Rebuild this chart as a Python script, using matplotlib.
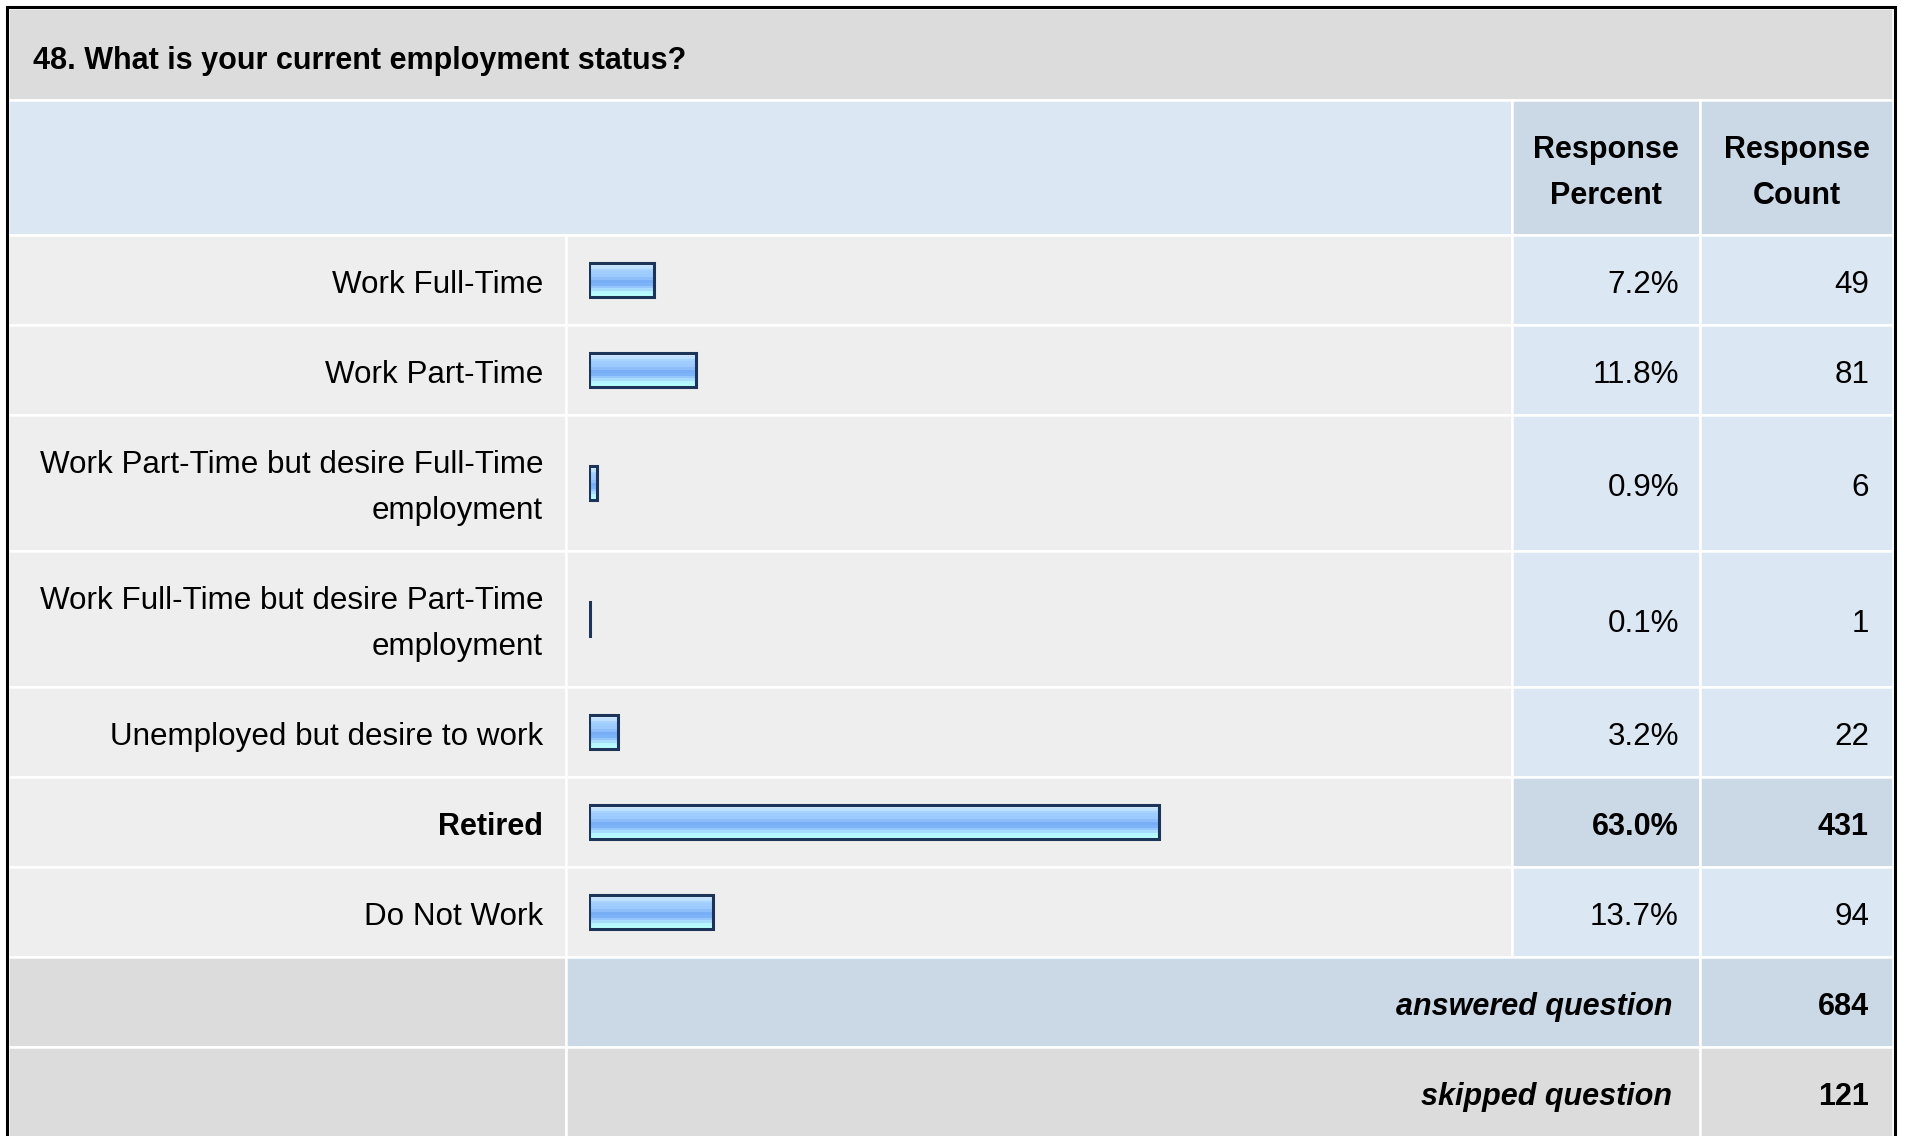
import numpy as np
import matplotlib.pyplot as plt
from matplotlib.patches import Rectangle
from matplotlib.colors import to_rgb

plt.rcParams['font.family'] = ['Liberation Sans', 'DejaVu Sans']

# ---- data ----
question = "48. What is your current employment status?"
answers = ["Work Full-Time", "Work Part-Time",
           "Work Part-Time but desire Full-Time\nemployment",
           "Work Full-Time but desire Part-Time\nemployment",
           "Unemployed but desire to work", "Retired", "Do Not Work"]
percents = [7.2, 11.8, 0.9, 0.1, 3.2, 63.0, 13.7]
counts = [49, 81, 6, 1, 22, 431, 94]
answered = 684
skipped = 121
highlight = "Retired"

# ---- layout (pixels) ----
W, H = 1907, 1136
X0, XLAB, XBAR, XPCT, XEND = 8, 566, 1512, 1700, 1893
FS = 22
FS_LAB = 22.6
DY = 5  # nudge text down to sit like the html render
GRAY = "#dcdcdc"
LIGHT = "#eeeeee"
BLUE = "#dce7f4"
BLUE_DK = "#cbd8e6"
NAVY = "#1b3458"
stripes = ["#d4eaff", "#bfe0ff", "#a8d3ff", "#9fcdff", "#9ccaff", "#8dbefa",
           "#78aef5", "#7db3f7", "#95c7fc", "#a8dcff", "#b6f6ff", "#b8ffff"]

fig = plt.figure(figsize=(W / 100, H / 100), dpi=100)
ax = fig.add_axes([0, 0, 1, 1])
ax.set_xlim(0, W)
ax.set_ylim(H, 0)
ax.axis("off")


def cell(x0, x1, y0, y1, color):
    ax.add_patch(Rectangle((x0, y0), x1 - x0, y1 - y0, facecolor=color,
                           edgecolor="white", lw=1.8))


# title band + header
cell(X0, XEND, 8, 100, GRAY)
cell(X0, XBAR, 100, 235, BLUE)
cell(XBAR, XPCT, 100, 235, BLUE_DK)
cell(XPCT, XEND, 100, 235, BLUE_DK)
ax.text(33, 56 + DY, question, fontsize=FS, fontweight="bold", va="center")
for cx, word in [(1606, "Percent"), (1797, "Count")]:
    ax.text(cx, 147 + DY - 2, "Response", fontsize=FS, fontweight="bold", ha="center", va="center")
    ax.text(cx, 193 + DY - 2, word, fontsize=FS, fontweight="bold", ha="center", va="center")

# data rows
y = 235
centers = []
for label, p, n in zip(answers, percents, counts):
    lines = label.split("\n")
    h = 90 if len(lines) == 1 else 136
    hl = label == highlight
    weight = "bold" if hl else "normal"
    fs = FS if hl else FS_LAB
    vcol = BLUE_DK if hl else BLUE
    cell(X0, XLAB, y, y + h, LIGHT)
    cell(XLAB, XBAR, y, y + h, LIGHT)
    cell(XBAR, XPCT, y, y + h, vcol)
    cell(XPCT, XEND, y, y + h, vcol)
    c = y + h / 2
    centers.append(c)
    for i, ln in enumerate(lines):
        ly = c + (i - (len(lines) - 1) / 2) * 46 + DY
        ax.text(543, ly, ln, fontsize=fs, fontweight=weight, ha="right", va="center")
    ax.text(1679, c + DY, f"{p:.1f}%", fontsize=fs, fontweight=weight, ha="right", va="center")
    ax.text(1869, c + DY, f"{n}", fontsize=fs, fontweight=weight, ha="right", va="center")
    y += h

# summary rows
cell(X0, XLAB, y, y + 90, GRAY)
cell(XLAB, XPCT, y, y + 90, BLUE_DK)
cell(XPCT, XEND, y, y + 90, BLUE_DK)
ax.text(1672, y + 45 + DY, "answered question", fontsize=FS, fontweight="bold",
        style="italic", ha="right", va="center")
ax.text(1869, y + 45 + DY, f"{answered}", fontsize=FS, fontweight="bold", ha="right", va="center")
y += 90
cell(X0, XLAB, y, y + 90, GRAY)
cell(XLAB, XPCT, y, y + 90, GRAY)
cell(XPCT, XEND, y, y + 90, GRAY)
ax.text(1672, y + 45 + DY, "skipped question", fontsize=FS, fontweight="bold",
        style="italic", ha="right", va="center")
ax.text(1869, y + 45 + DY, f"{skipped}", fontsize=FS, fontweight="bold", ha="right", va="center")

# outer border
ax.plot([6.5, 6.5, 1894.5, 1894.5], [H + 5, 7, 7, H + 5], color="black", lw=2.2,
        solid_joinstyle="miter", clip_on=False)

# bars on their own percent axis
bax = fig.add_axes([589 / W, 0, 905 / W, 1])
bax.set_xlim(0, 100)
bax.set_ylim(H, 0)
bax.axis("off")
grad = np.array([to_rgb(s) for s in stripes])[:, None, :]
bars = bax.barh(centers, percents, height=34, color="none", edgecolor=NAVY,
                lw=2.2, zorder=3)
for bar, c, p in zip(bars, centers, percents):
    im = bax.imshow(grad, extent=(0, p, c + 17, c - 17), aspect="auto",
                    interpolation="nearest", zorder=2)
    im.set_clip_path(bar)
bax.set_xlim(0, 100)
bax.set_ylim(H, 0)

fig.savefig("out.png", dpi=100)
